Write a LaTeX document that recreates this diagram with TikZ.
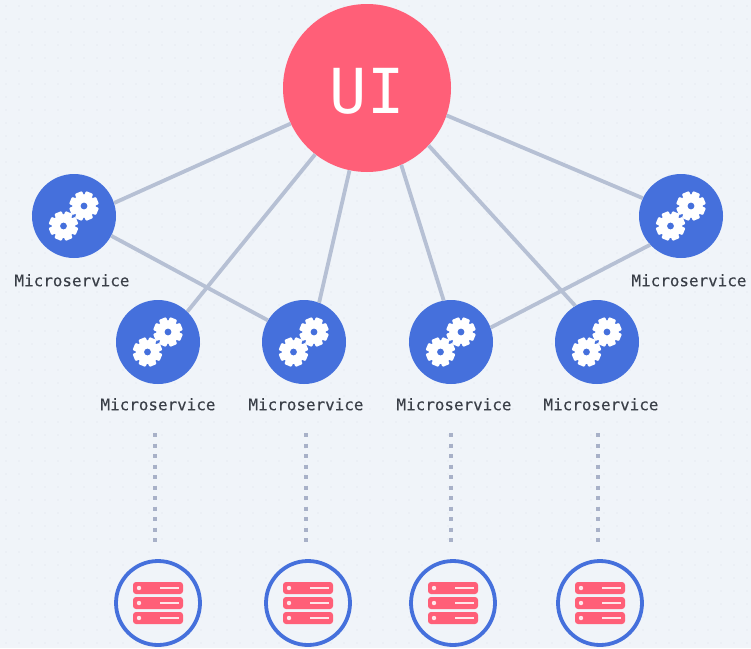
\documentclass[tikz,border=0pt]{standalone}
\usepackage{fontspec}
\setmonofont[FakeBold=0.25]{DejaVu Sans Mono}
\newfontfamily\uifont{DejaVu Sans Mono}
\definecolor{bgc}{HTML}{F0F4F9}
\definecolor{dotc}{HTML}{E6EBF1}
\definecolor{linkc}{HTML}{B6C0D4}
\definecolor{dotlinkc}{HTML}{A8B1C8}
\definecolor{bluec}{HTML}{4570DC}
\definecolor{redc}{HTML}{FF5F78}
\definecolor{labelc}{HTML}{3A3F48}
\tikzset{
  x=1pt,y=-1pt,
  uinode/.style={circle,fill=redc,minimum size=168pt,inner sep=0pt,text=white,font=\uifont\fontsize{62}{62}\selectfont},
  msnode/.style={circle,fill=bluec,minimum size=84pt,inner sep=0pt},
  dbnode/.style={circle,draw=bluec,line width=3.8pt,fill=bgc,minimum size=84pt,inner sep=0pt},
  mslabel/.style={text=labelc,font=\ttfamily\fontsize{15.9}{16}\selectfont,inner sep=0pt},
  link/.style={draw=linkc,line width=3.8pt},
  dotlink/.style={draw=dotlinkc,line width=4pt,dash pattern=on 4pt off 6.5pt},
  gearpart/.pic={
    \foreach \a in {0,45,...,315}{
      \fill[white,rotate=\a+22.5,rounded corners=1pt] (-3.9,-14.6) rectangle (3.9,0);
    }
    \fill[white] (0,0) circle (11.8);
    \fill[bluec] (0,0) circle (3.4);
  },
  gearpair/.pic={
    \pic at (-10.5,10) {gearpart};
    \pic at (10,-10) {gearpart};
  },
  serverbar/.pic={
    \fill[redc,rounded corners=3pt] (-25,-6) rectangle (25,6);
    \fill[white,opacity=.85] (-19,0) circle (2.2);
    \draw[white,opacity=.85,line width=1.6pt] (2,0) -- (21,0);
  },
}
\begin{document}
\begin{tikzpicture}
\useasboundingbox (0,0) rectangle (751,648);
\fill[bgc] (0,0) rectangle (751,648);
\foreach \i in {0,...,57}{\foreach \j in {0,...,49}{
  \fill[dotc] (\i*13+6,\j*13+6) circle (0.8);
}}
% nodes
\node[uinode] (ui) at (367,88) {\raisebox{-25.5pt}[0pt][0pt]{UI}};
\node[msnode] (m1) at (74,216) {};
\node[msnode] (m2) at (158,342) {};
\node[msnode] (m3) at (304,342) {};
\node[msnode] (m4) at (451,342) {};
\node[msnode] (m5) at (597,342) {};
\node[msnode] (m6) at (681,216) {};
\node[mslabel] (l1) at (72,280.3) {Microservice};
\node[mslabel] (l2) at (158,404.3) {Microservice};
\node[mslabel] (l3) at (306,404.3) {Microservice};
\node[mslabel] (l4) at (454,404.3) {Microservice};
\node[mslabel] (l5) at (601,404.3) {Microservice};
\node[mslabel] (l6) at (689,280.3) {Microservice};
\node[dbnode] (d2) at (158,603) {};
\node[dbnode] (d3) at (308,603) {};
\node[dbnode] (d4) at (453,603) {};
\node[dbnode] (d5) at (600,603) {};
\coordinate (s2) at (155,433);
\coordinate (e2) at (155,542);
\coordinate (s3) at (306,433);
\coordinate (e3) at (306,542);
\coordinate (s4) at (451,433);
\coordinate (e4) at (451,542);
\coordinate (s5) at (598,433);
\coordinate (e5) at (598,542);
% connectors
\draw[link] (ui.205.7) -- (m1.18.9);
\draw[link] (ui.232.5) -- (m2.46);
\draw[link] (ui.258.6) -- (m3.69);
\draw[link] (ui.294.8) -- (m4.100);
\draw[link] (ui.317.9) -- (m5.121.6);
\draw[link] (ui.341.6) -- (m6.155);
\draw[link] (m1.-28.3) -- (m3.149.3);
\draw[link] (m6.223) -- (m4.20);
\draw[dotlink] (s2) -- (e2);
\draw[dotlink] (s3) -- (e3);
\draw[dotlink] (s4) -- (e4);
\draw[dotlink] (s5) -- (e5);
% icons
\foreach \n in {m1,m2,m3,m4,m5,m6}{ \pic at (\n) {gearpair}; }
\foreach \n in {d2,d3,d4,d5}{
  \pic at ([yshift=15pt]\n.center) {serverbar};
  \pic at (\n.center) {serverbar};
  \pic at ([yshift=-15pt]\n.center) {serverbar};
}
\end{tikzpicture}
\end{document}
